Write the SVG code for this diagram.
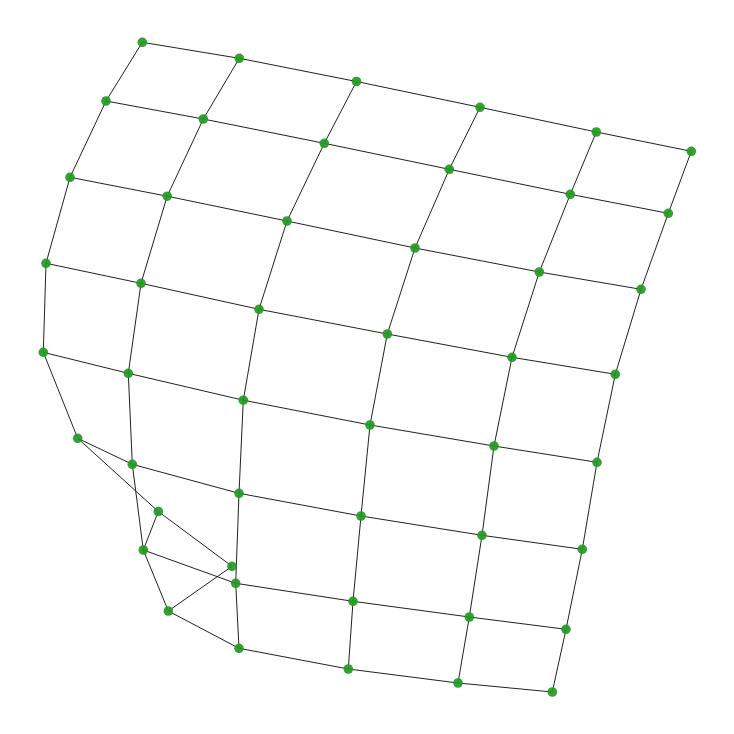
<svg xmlns="http://www.w3.org/2000/svg" width="734" height="734" viewBox="0 0 734 734">
<style>
.e line{stroke:#222;stroke-width:1;fill:none}
.n circle{fill:#229a22;fill-opacity:0.92}
</style>
<rect width="734" height="734" fill="#fff"/>
<g id="edges" class="e">
<line x1="142.3" y1="42.3" x2="239.3" y2="58.3"/><line x1="239.3" y1="58.3" x2="356.5" y2="81.5"/><line x1="356.5" y1="81.5" x2="480" y2="107.3"/><line x1="480" y1="107.3" x2="596.3" y2="132"/><line x1="596.3" y1="132" x2="691.3" y2="151.3"/>
<line x1="106" y1="101" x2="203.3" y2="119"/><line x1="203.3" y1="119" x2="324.3" y2="143.3"/><line x1="324.3" y1="143.3" x2="449.3" y2="169.3"/><line x1="449.3" y1="169.3" x2="570.3" y2="194.3"/><line x1="570.3" y1="194.3" x2="668.3" y2="213.3"/>
<line x1="70" y1="177.3" x2="167.2" y2="196.2"/><line x1="167.2" y1="196.2" x2="287" y2="221"/><line x1="287" y1="221" x2="415" y2="248"/><line x1="415" y1="248" x2="539.3" y2="272"/><line x1="539.3" y1="272" x2="641" y2="289.3"/>
<line x1="46" y1="263.3" x2="141" y2="283.3"/><line x1="141" y1="283.3" x2="259" y2="309.3"/><line x1="259" y1="309.3" x2="387.3" y2="334"/><line x1="387.3" y1="334" x2="512" y2="357.3"/><line x1="512" y1="357.3" x2="615.3" y2="374.3"/>
<line x1="43.3" y1="352.3" x2="128.3" y2="373.3"/><line x1="128.3" y1="373.3" x2="243.3" y2="400.2"/><line x1="243.3" y1="400.2" x2="370" y2="425"/><line x1="370" y1="425" x2="494" y2="446"/><line x1="494" y1="446" x2="597" y2="462.3"/>
<line x1="77.7" y1="438.3" x2="132.3" y2="464.3"/><line x1="132.3" y1="464.3" x2="239" y2="493.3"/><line x1="239" y1="493.3" x2="361" y2="516"/><line x1="361" y1="516" x2="482" y2="535.3"/><line x1="482" y1="535.3" x2="582.3" y2="549.3"/>
<line x1="143.3" y1="550" x2="235.7" y2="583.3"/><line x1="235.7" y1="583.3" x2="353" y2="601.3"/><line x1="353" y1="601.3" x2="469.3" y2="617"/><line x1="469.3" y1="617" x2="566" y2="629.3"/>
<line x1="168.3" y1="611" x2="239" y2="648.3"/><line x1="239" y1="648.3" x2="348.3" y2="669"/><line x1="348.3" y1="669" x2="458" y2="683"/><line x1="458" y1="683" x2="552.3" y2="692"/>
<line x1="142.3" y1="42.3" x2="106" y2="101"/><line x1="106" y1="101" x2="70" y2="177.3"/><line x1="70" y1="177.3" x2="46" y2="263.3"/><line x1="46" y1="263.3" x2="43.3" y2="352.3"/><line x1="43.3" y1="352.3" x2="77.7" y2="438.3"/>
<line x1="239.3" y1="58.3" x2="203.3" y2="119"/><line x1="203.3" y1="119" x2="167.2" y2="196.2"/><line x1="167.2" y1="196.2" x2="141" y2="283.3"/><line x1="141" y1="283.3" x2="128.3" y2="373.3"/><line x1="128.3" y1="373.3" x2="132.3" y2="464.3"/><line x1="132.3" y1="464.3" x2="143.3" y2="550"/><line x1="143.3" y1="550" x2="168.3" y2="611"/>
<line x1="356.5" y1="81.5" x2="324.3" y2="143.3"/><line x1="324.3" y1="143.3" x2="287" y2="221"/><line x1="287" y1="221" x2="259" y2="309.3"/><line x1="259" y1="309.3" x2="243.3" y2="400.2"/><line x1="243.3" y1="400.2" x2="239" y2="493.3"/><line x1="239" y1="493.3" x2="235.7" y2="583.3"/><line x1="235.7" y1="583.3" x2="239" y2="648.3"/>
<line x1="480" y1="107.3" x2="449.3" y2="169.3"/><line x1="449.3" y1="169.3" x2="415" y2="248"/><line x1="415" y1="248" x2="387.3" y2="334"/><line x1="387.3" y1="334" x2="370" y2="425"/><line x1="370" y1="425" x2="361" y2="516"/><line x1="361" y1="516" x2="353" y2="601.3"/><line x1="353" y1="601.3" x2="348.3" y2="669"/>
<line x1="596.3" y1="132" x2="570.3" y2="194.3"/><line x1="570.3" y1="194.3" x2="539.3" y2="272"/><line x1="539.3" y1="272" x2="512" y2="357.3"/><line x1="512" y1="357.3" x2="494" y2="446"/><line x1="494" y1="446" x2="482" y2="535.3"/><line x1="482" y1="535.3" x2="469.3" y2="617"/><line x1="469.3" y1="617" x2="458" y2="683"/>
<line x1="691.3" y1="151.3" x2="668.3" y2="213.3"/><line x1="668.3" y1="213.3" x2="641" y2="289.3"/><line x1="641" y1="289.3" x2="615.3" y2="374.3"/><line x1="615.3" y1="374.3" x2="597" y2="462.3"/><line x1="597" y1="462.3" x2="582.3" y2="549.3"/><line x1="582.3" y1="549.3" x2="566" y2="629.3"/><line x1="566" y1="629.3" x2="552.3" y2="692"/>
<line x1="77.7" y1="438.3" x2="158.3" y2="511.5"/><line x1="158.3" y1="511.5" x2="232" y2="566.3"/><line x1="158.3" y1="511.5" x2="143.3" y2="550"/><line x1="168.3" y1="611" x2="232" y2="566.3"/>
</g>
<g class="n">
<g id="n0_0"><circle cx="142.3" cy="42.3" r="4.8"/></g><g id="n0_1"><circle cx="239.3" cy="58.3" r="4.8"/></g><g id="n0_2"><circle cx="356.5" cy="81.5" r="4.8"/></g><g id="n0_3"><circle cx="480" cy="107.3" r="4.8"/></g><g id="n0_4"><circle cx="596.3" cy="132" r="4.8"/></g><g id="n0_5"><circle cx="691.3" cy="151.3" r="4.8"/></g>
<g id="n1_0"><circle cx="106" cy="101" r="4.8"/></g><g id="n1_1"><circle cx="203.3" cy="119" r="4.8"/></g><g id="n1_2"><circle cx="324.3" cy="143.3" r="4.8"/></g><g id="n1_3"><circle cx="449.3" cy="169.3" r="4.8"/></g><g id="n1_4"><circle cx="570.3" cy="194.3" r="4.8"/></g><g id="n1_5"><circle cx="668.3" cy="213.3" r="4.8"/></g>
<g id="n2_0"><circle cx="70" cy="177.3" r="4.8"/></g><g id="n2_1"><circle cx="167.2" cy="196.2" r="4.8"/></g><g id="n2_2"><circle cx="287" cy="221" r="4.8"/></g><g id="n2_3"><circle cx="415" cy="248" r="4.8"/></g><g id="n2_4"><circle cx="539.3" cy="272" r="4.8"/></g><g id="n2_5"><circle cx="641" cy="289.3" r="4.8"/></g>
<g id="n3_0"><circle cx="46" cy="263.3" r="4.8"/></g><g id="n3_1"><circle cx="141" cy="283.3" r="4.8"/></g><g id="n3_2"><circle cx="259" cy="309.3" r="4.8"/></g><g id="n3_3"><circle cx="387.3" cy="334" r="4.8"/></g><g id="n3_4"><circle cx="512" cy="357.3" r="4.8"/></g><g id="n3_5"><circle cx="615.3" cy="374.3" r="4.8"/></g>
<g id="n4_0"><circle cx="43.3" cy="352.3" r="4.8"/></g><g id="n4_1"><circle cx="128.3" cy="373.3" r="4.8"/></g><g id="n4_2"><circle cx="243.3" cy="400.2" r="4.8"/></g><g id="n4_3"><circle cx="370" cy="425" r="4.8"/></g><g id="n4_4"><circle cx="494" cy="446" r="4.8"/></g><g id="n4_5"><circle cx="597" cy="462.3" r="4.8"/></g>
<g id="n5_0"><circle cx="77.7" cy="438.3" r="4.8"/></g><g id="n5_1"><circle cx="132.3" cy="464.3" r="4.8"/></g><g id="n5_2"><circle cx="239" cy="493.3" r="4.8"/></g><g id="n5_3"><circle cx="361" cy="516" r="4.8"/></g><g id="n5_4"><circle cx="482" cy="535.3" r="4.8"/></g><g id="n5_5"><circle cx="582.3" cy="549.3" r="4.8"/></g>
<g id="n6_1"><circle cx="143.3" cy="550" r="4.8"/></g><g id="n6_2"><circle cx="235.7" cy="583.3" r="4.8"/></g><g id="n6_3"><circle cx="353" cy="601.3" r="4.8"/></g><g id="n6_4"><circle cx="469.3" cy="617" r="4.8"/></g><g id="n6_5"><circle cx="566" cy="629.3" r="4.8"/></g>
<g id="n7_1"><circle cx="168.3" cy="611" r="4.8"/></g><g id="n7_2"><circle cx="239" cy="648.3" r="4.8"/></g><g id="n7_3"><circle cx="348.3" cy="669" r="4.8"/></g><g id="n7_4"><circle cx="458" cy="683" r="4.8"/></g><g id="n7_5"><circle cx="552.3" cy="692" r="4.8"/></g>
<g id="x1"><circle cx="158.3" cy="511.5" r="4.8"/></g><g id="x2"><circle cx="232" cy="566.3" r="4.8"/></g>
</g>
</svg>
